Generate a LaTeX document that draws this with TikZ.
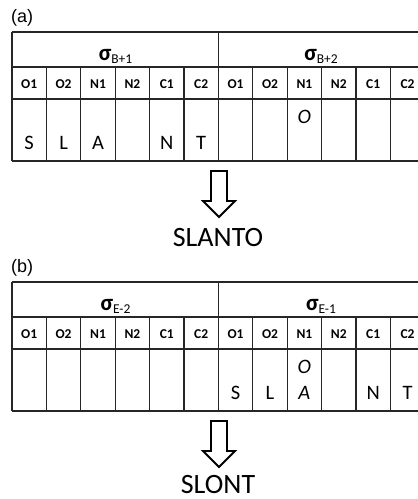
\documentclass[tikz,border=0pt]{standalone}
\usepackage{fontspec}
\setmainfont{Carlito}
\newfontfamily\labfont{Liberation Sans}
\begin{document}
\begin{tikzpicture}[x=1pt,y=-1pt,
  gridline/.style={line width=1.3pt, draw=black!85},
  collab/.style={font=\bfseries\fontsize{13.5}{15}\selectfont, anchor=base, inner sep=0pt},
  letter/.style={font=\fontsize{20.5}{24}\selectfont, anchor=base, inner sep=0pt},
  iletter/.style={letter, font=\itshape\fontsize{20.5}{24}\selectfont},
  sig/.style={anchor=base, inner sep=0pt},
  panellab/.style={font=\labfont\fontsize{18}{21}\selectfont, anchor=base west, inner sep=0pt},
  bigarrow/.style={line width=1.8pt, draw=black, fill=white, line join=miter},
  word/.style={font=\fontsize{28}{32}\selectfont, anchor=base, inner sep=0pt}]
\useasboundingbox (0,0) rectangle (418,499);
\clip (0,0) rectangle (418,499);
\newcommand\sigmahead[1]{{\fontsize{23}{28}\selectfont\bfseries σ}\raisebox{-3pt}{\fontsize{13.5}{15}\selectfont #1}}
\foreach \oy/\p in {0/a,250/b}{
  % horizontal lines
  \foreach \yy in {32,67,99,161}
    \draw[gridline] (12,{\yy+\oy}) -- (426,{\yy+\oy});
  % long vertical lines
  \foreach \i in {0,6}
    \draw[gridline] ({12+34.4*\i},{32+\oy}) -- ({12+34.4*\i},{161+\oy});
  % short vertical lines
  \foreach \i in {1,2,3,4,5,7,8,9,10,11,12}
    \draw[gridline] ({12+34.4*\i},{67+\oy}) -- ({12+34.4*\i},{161+\oy});
  % column labels
  \foreach \i/\t in {0/O1,1/O2,2/N1,3/N2,4/C1,5/C2,6/O1,7/O2,8/N1,9/N2,10/C1,11/C2}
    \node[collab] (\p-col\i) at ({12+34.4*(\i+0.5)},{88+\oy}) {\t};
  % arrow
  \draw[bigarrow] (211,{171+\oy}) -- (227,{171+\oy}) -- (227,{201+\oy}) -- (235,{201+\oy})
    -- (219,{217+\oy}) -- (203,{201+\oy}) -- (211,{201+\oy}) -- cycle;
}
% panel labels
\node[panellab] (laba) at (11,22) {(a)};
\node[panellab] (labb) at (11,272) {(b)};
% sigma headers
\node[sig] (sa1) at (115.5,60) {\sigmahead{B+1}};
\node[sig] (sa2) at (321,60) {\sigmahead{B+2}};
\node[sig] (sb1) at (115.5,310) {\sigmahead{E-2}};
\node[sig] (sb2) at (321,310) {\sigmahead{E-1}};
% panel (a) letters
\node[letter] (aS) at (29.2,149) {S};
\node[letter] (aL) at (63.6,149) {L};
\node[letter] (aA) at (98,149) {A};
\node[letter] (aN) at (166.8,149) {N};
\node[letter] (aT) at (201.2,149) {T};
\node[iletter] (aO) at (304.4,123) {O};
% panel (b) letters
\node[letter] (bS) at (235.6,399) {S};
\node[letter] (bL) at (270,399) {L};
\node[iletter] (bO) at (304.4,373) {O};
\node[iletter] (bA) at (304.4,399) {A};
\node[letter] (bN) at (373.2,399) {N};
\node[letter] (bT) at (407.6,399) {T};
% words
\node[word] (wa) at (218,246) {SLANTO};
\node[word] (wb) at (218,493) {SLONT};
\end{tikzpicture}
\end{document}
